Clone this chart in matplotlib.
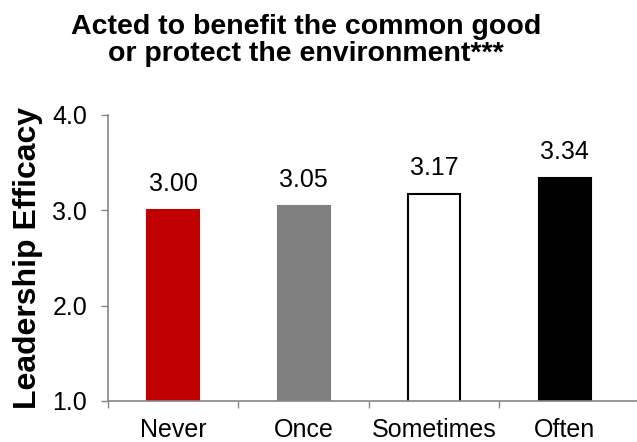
import numpy as np
import matplotlib
matplotlib.use("Agg")
import matplotlib.pyplot as plt

plt.rcParams['font.family'] = ['Liberation Sans', 'DejaVu Sans']

# data
categories = ["Never", "Once", "Sometimes", "Often"]
values = [3.00, 3.05, 3.17, 3.34]
labels = ["3.00", "3.05", "3.17", "3.34"]
colors = ["#C00000", "#808080", "#FFFFFF", "#000000"]
edges = ["#C00000", "#808080", "#000000", "#000000"]
yticks = [1.0, 2.0, 3.0, 4.0]

fig = plt.figure(figsize=(6.37, 4.42), dpi=100)
ax = fig.add_axes([108/637, 1 - 401/442, 1 - 108/637, (401 - 115)/442])

x = np.arange(len(categories))
ax.bar(x, values, width=0.4, color=colors, edgecolor=edges, linewidth=1.5, zorder=2)

for xi, v, t in zip(x, values, labels):
    ax.annotate(t, (xi, v), xytext=(0, 10), textcoords="offset points",
                ha="center", va="bottom", fontsize=18)

ax.set_ylim(1, 4)
ax.set_xlim(-0.5, 3.554)
ax.set_yticks(yticks)
ax.set_yticklabels(["%.1f" % t for t in yticks], fontsize=18)
ax.set_xticks(x)
ax.set_xticklabels(categories, fontsize=18)
ax.set_xticks([-0.5, 0.5, 1.5, 2.5], minor=True)

ax.tick_params(axis="x", which="major", length=0, pad=12)
ax.tick_params(axis="x", which="minor", length=5, width=1, color="#868686", direction="out")
ax.tick_params(axis="y", length=5, width=1, color="#868686", pad=10)

for s in ["top", "right"]:
    ax.spines[s].set_visible(False)
for s in ["left", "bottom"]:
    ax.spines[s].set_color("#868686")
    ax.spines[s].set_linewidth(1.2)

ax.set_ylabel("Leadership Efficacy", fontsize=23, fontweight="bold", labelpad=7)

fig.text(0.48, 0.908, "Acted to benefit the common good\nor protect the environment***",
         ha="center", va="center", fontsize=20.5, fontweight="bold", linespacing=1.05)

fig.savefig("out.png", dpi=100)
